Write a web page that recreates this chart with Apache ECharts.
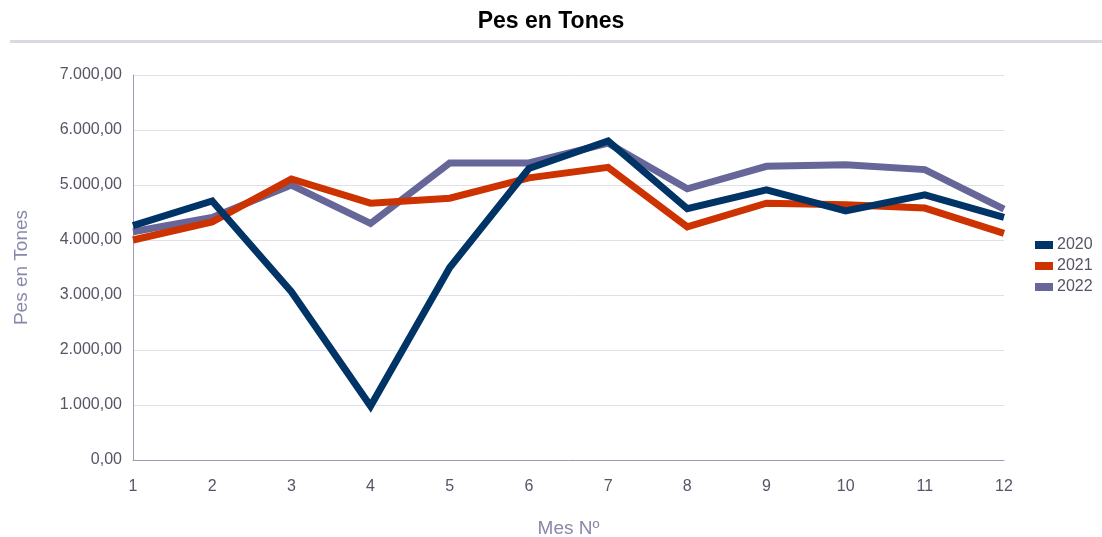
<!DOCTYPE html>
<html><head><meta charset="utf-8">
<script src="https://cdn.jsdelivr.net/npm/echarts@6/dist/echarts.min.js"></script>
<style>html,body{margin:0;padding:0;background:#fff}#c{width:1102px;height:537px}</style>
</head><body><div id="c"></div>
<script>
const months = ['1','2','3','4','5','6','7','8','9','10','11','12'];
const s2020 = [4260, 4710, 3060, 980, 3500, 5300, 5800, 4570, 4910, 4530, 4820, 4410];
const s2021 = [4000, 4330, 5110, 4670, 4760, 5130, 5320, 4240, 4670, 4640, 4580, 4120];
const s2022 = [4150, 4410, 5000, 4300, 5400, 5400, 5760, 4930, 5340, 5370, 5280, 4560];
const seriesNames = ['2020','2021','2022'];
const colors = ['#003366','#cc3300','#666699'];

function fmt(v){
  const parts = v.toFixed(2).split('.');
  parts[0] = parts[0].replace(/\B(?=(\d{3})+(?!\d))/g, '.');
  return parts[0] + ',' + parts[1];
}
const F = 'Liberation Sans, Arial, sans-serif';
const chart = echarts.init(document.getElementById('c'));
const data = [s2020, s2021, s2022];
chart.setOption({
  animation:false,
  title:{text:'Pes en Tones', left:'center', top:5,
    textStyle:{fontFamily:F, fontWeight:'bold', fontSize:23, color:'#000'}},
  graphic:[{type:'rect', shape:{x:10,y:40,width:1092,height:3}, style:{fill:'#d9d9e1'}}],
  legend:{orient:'vertical', left:1030, top:232, itemWidth:18, itemHeight:8, itemGap:5,
    icon:'rect', textStyle:{fontFamily:F, fontSize:16, color:'#555566', padding:[0,0,0,-1]},
    data:seriesNames},
  grid:{left:133, right:98, top:75, bottom:77, containLabel:false, outerBoundsMode:'none'},
  xAxis:{type:'category', data:months, boundaryGap:false,
    name:'Mes Nº', nameLocation:'middle', nameGap:59,
    nameTextStyle:{fontFamily:F, fontSize:19, color:'#8888aa'},
    axisLine:{lineStyle:{color:'#9a9abb', width:1}}, axisTick:{show:false},
    axisLabel:{fontFamily:F, fontSize:16, color:'#555566', margin:19}},
  yAxis:{type:'value', min:0, max:7000, interval:1000,
    name:'Pes en Tones', nameLocation:'middle', nameGap:102,
    nameTextStyle:{fontFamily:F, fontSize:19, color:'#8888aa'},
    axisLine:{show:true, lineStyle:{color:'#9a9abb', width:1}}, axisTick:{show:false},
    splitLine:{lineStyle:{color:'#e0e0ea', width:1}},
    axisLabel:{formatter:fmt, fontFamily:F, fontSize:16, color:'#555566', margin:11}},
  series: seriesNames.map((n,i)=>({name:n, type:'line', data:data[i], symbol:'none',
    lineStyle:{width:7, color:colors[i], join:'miter'}, itemStyle:{color:colors[i]}, z:3-i+1}))
});
</script></body></html>
